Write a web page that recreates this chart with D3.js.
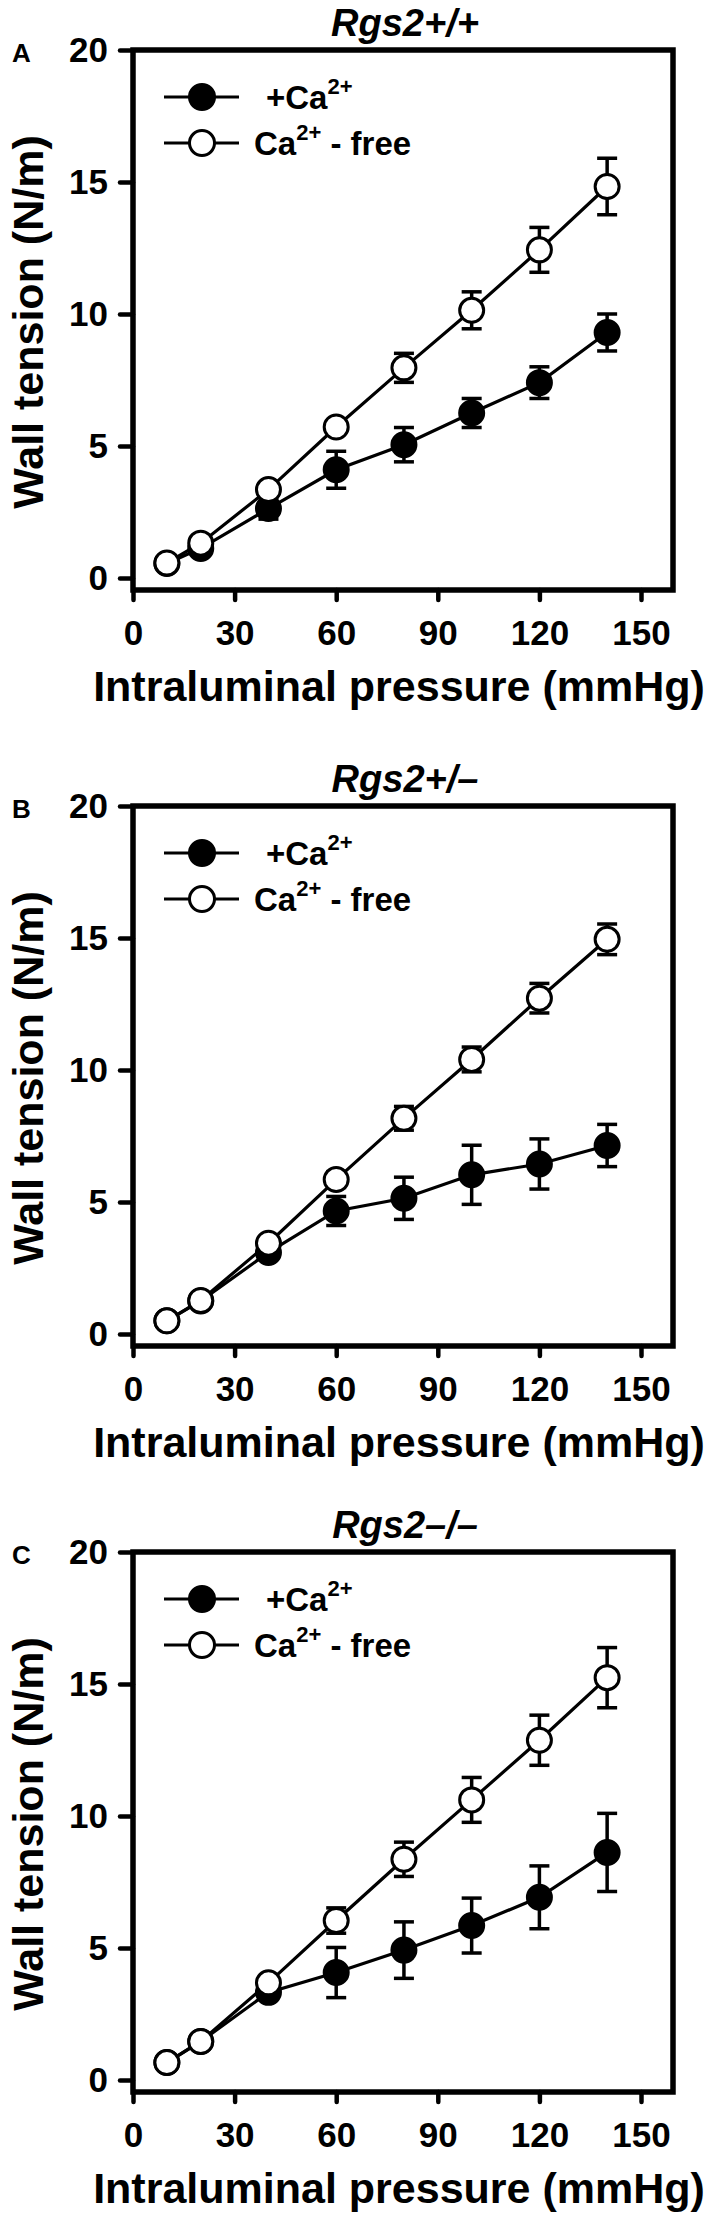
<!DOCTYPE html>
<html>
<head>
<meta charset="utf-8">
<script src="https://cdn.jsdelivr.net/npm/d3@7"></script>
<style>
  body { margin: 0; background: #fff; }
  text { font-family: "Liberation Sans", Arial, sans-serif; font-weight: bold; fill: #000; }
</style>
</head>
<body>
<div id="chart"></div>
<script>
// 壓力 (mmHg)
const pressure = [10, 20, 40, 60, 80, 100, 120, 140];

// Rgs2+/+
const aCa       = [0.55, 1.12, 2.63, 4.10, 5.05, 6.25, 7.40, 9.30];
const aCaErr    = [0.10, 0.15, 0.40, 0.70, 0.65, 0.55, 0.60, 0.70];
const aFree     = [0.57, 1.32, 3.35, 5.72, 7.96, 10.14, 12.43, 14.83];
const aFreeErr  = [0.10, 0.15, 0.20, 0.25, 0.55, 0.70, 0.85, 1.07];

// Rgs2+/–
const bCa       = [0.50, 1.25, 3.09, 4.66, 5.14, 6.03, 6.44, 7.14];
const bCaErr    = [0.10, 0.15, 0.25, 0.55, 0.80, 1.12, 0.95, 0.80];
const bFree     = [0.50, 1.27, 3.44, 5.85, 8.17, 10.40, 12.72, 14.95];
const bFreeErr  = [0.10, 0.15, 0.20, 0.30, 0.45, 0.47, 0.56, 0.58];

// Rgs2–/–
const cCa       = [0.66, 1.46, 3.32, 4.07, 4.92, 5.85, 6.92, 8.62];
const cCaErr    = [0.10, 0.15, 0.25, 0.95, 1.07, 1.04, 1.19, 1.48];
const cFree     = [0.66, 1.46, 3.68, 6.04, 8.36, 10.61, 12.87, 15.24];
const cFreeErr  = [0.10, 0.15, 0.20, 0.48, 0.65, 0.85, 0.95, 1.14];

const panelLetters = ["A", "B", "C"];
const panelTitles = ["Rgs2+/+", "Rgs2+/–", "Rgs2–/–"];
const xTicks = [0, 30, 60, 90, 120, 150];
const yTicks = [0, 5, 10, 15, 20];

const panels = [
    { ca: aCa, caErr: aCaErr, free: aFree, freeErr: aFreeErr },
    { ca: bCa, caErr: bCaErr, free: bFree, freeErr: bFreeErr },
    { ca: cCa, caErr: cCaErr, free: cFree, freeErr: cFreeErr }
];
const panelTops = [50, 806, 1552];

const svg = d3.select("#chart")
    .append("svg")
    .attr("width", 709)
    .attr("height", 2214);

const frameLeft = 133, frameRight = 673, frameSize = 540;

function drawPanel(p, i) {
    const top = panelTops[i];
    const g = svg.append("g");

    const xScale = d3.scaleLinear().domain([0, 150]).range([frameLeft, 641]);
    const yScale = d3.scaleLinear().domain([0, 20]).range([top + 528, top]);

    // 外框
    g.append("rect")
        .attr("x", frameLeft)
        .attr("y", top)
        .attr("width", frameRight - frameLeft)
        .attr("height", frameSize)
        .attr("fill", "none")
        .attr("stroke", "#000")
        .attr("stroke-width", 5.5);

    // X 軸
    const xAxis = g.append("g")
        .attr("transform", `translate(0, ${top + frameSize})`)
        .call(d3.axisBottom(xScale).tickValues(xTicks).tickSize(10).tickPadding(20));
    xAxis.select(".domain").remove();
    xAxis.selectAll("line").attr("stroke-width", 4.5).attr("stroke-linecap", "round");
    xAxis.selectAll("text").attr("font-size", 35).attr("font-family", null);

    // Y 軸
    const yAxis = g.append("g")
        .attr("transform", `translate(${frameLeft}, 0)`)
        .call(d3.axisLeft(yScale).tickValues(yTicks).tickSize(13).tickPadding(12));
    yAxis.select(".domain").remove();
    yAxis.selectAll("line").attr("stroke-width", 4.5).attr("stroke-linecap", "round");
    yAxis.selectAll("text").attr("font-size", 35).attr("font-family", null);

    // 標題
    g.append("text")
        .attr("x", 405)
        .attr("y", top - 14)
        .attr("text-anchor", "middle")
        .attr("font-size", 38)
        .attr("font-style", "italic")
        .text(panelTitles[i]);

    g.append("text")
        .attr("x", 12)
        .attr("y", top + 12)
        .attr("font-size", 26)
        .text(panelLetters[i]);

    g.append("text")
        .attr("x", 399)
        .attr("y", top + 651)
        .attr("text-anchor", "middle")
        .attr("font-size", 43)
        .text("Intraluminal pressure (mmHg)");

    g.append("text")
        .attr("transform", `translate(43, ${top + 272}) rotate(-90)`)
        .attr("text-anchor", "middle")
        .attr("font-size", 43)
        .text("Wall tension (N/m)");

    const line = d3.line()
        .x((d, k) => xScale(pressure[k]))
        .y(d => yScale(d));

    // 先畫 +Ca2+，再畫 Ca2+-free
    const series = [
        { values: p.ca, errs: p.caErr, fill: "#000" },
        { values: p.free, errs: p.freeErr, fill: "#fff" }
    ];

    series.forEach(s => {
        const sg = g.append("g");
        sg.append("path")
            .datum(s.values)
            .attr("fill", "none")
            .attr("stroke", "#000")
            .attr("stroke-width", 3.2)
            .attr("d", line);

        const eb = sg.selectAll(".err")
            .data(s.values)
            .enter()
            .append("g");
        eb.append("line")
            .attr("x1", (d, k) => xScale(pressure[k]))
            .attr("x2", (d, k) => xScale(pressure[k]))
            .attr("y1", (d, k) => yScale(d + s.errs[k]))
            .attr("y2", (d, k) => yScale(d - s.errs[k]))
            .attr("stroke", "#000")
            .attr("stroke-width", 3.5);
        [1, -1].forEach(sign => {
            eb.append("line")
                .attr("x1", (d, k) => xScale(pressure[k]) - 10)
                .attr("x2", (d, k) => xScale(pressure[k]) + 10)
                .attr("y1", (d, k) => yScale(d + sign * s.errs[k]))
                .attr("y2", (d, k) => yScale(d + sign * s.errs[k]))
                .attr("stroke", "#000")
                .attr("stroke-width", 3.5);
        });

        sg.selectAll("circle")
            .data(s.values)
            .enter()
            .append("circle")
            .attr("cx", (d, k) => xScale(pressure[k]))
            .attr("cy", d => yScale(d))
            .attr("r", 12)
            .attr("fill", s.fill)
            .attr("stroke", "#000")
            .attr("stroke-width", 3);
    });

    // 圖例
    const legendRows = [
        { y: top + 47, fill: "#000", tx: 266, pre: "+Ca", post: "" },
        { y: top + 93, fill: "#fff", tx: 254, pre: "Ca", post: " - free" }
    ];
    legendRows.forEach(r => {
        g.append("line")
            .attr("x1", 164).attr("x2", 239)
            .attr("y1", r.y).attr("y2", r.y)
            .attr("stroke", "#000")
            .attr("stroke-width", 3.2);
        g.append("circle")
            .attr("cx", 202).attr("cy", r.y)
            .attr("r", 12.5)
            .attr("fill", r.fill)
            .attr("stroke", "#000")
            .attr("stroke-width", 3);
        const t = g.append("text")
            .attr("x", r.tx)
            .attr("y", r.y + 12)
            .attr("font-size", 33);
        t.append("tspan").text(r.pre);
        t.append("tspan").attr("font-size", 22).attr("dy", -15).text("2+");
        if (r.post) t.append("tspan").attr("dy", 15).text(r.post);
    });
}

panels.forEach(drawPanel);
</script>
</body>
</html>
